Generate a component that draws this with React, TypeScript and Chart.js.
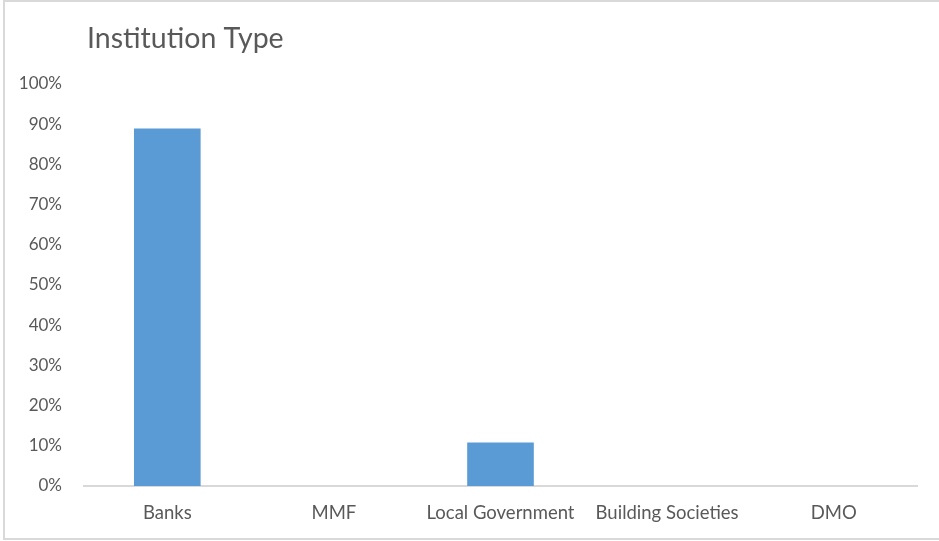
import React, { useEffect, useRef } from "react";
import { Chart, registerables } from "chart.js";

Chart.register(...registerables);

const categories: string[] = ["Banks", "MMF", "Local Government", "Building Societies", "DMO"];
const shares: number[] = [88.9, 0, 10.8, 0, 0];
const yTicks: number[] = [0, 10, 20, 30, 40, 50, 60, 70, 80, 90, 100];
const chartTitle = "Institution Type";

const TEXT = "#595959";
const FONT = "Lato, 'Open Sans', sans-serif";

const titlePlugin = {
  id: "leftTitle",
  afterDraw(chart: any) {
    const { ctx, chartArea } = chart;
    ctx.save();
    ctx.font = `28.5px ${FONT}`;
    ctx.fillStyle = TEXT;
    ctx.textAlign = "left";
    ctx.textBaseline = "alphabetic";
    ctx.fillText(chartTitle, chartArea.left + 3, 48);
    ctx.restore();
  },
};

export default function App() {
  const ref = useRef<HTMLCanvasElement | null>(null);

  useEffect(() => {
    if (!ref.current) return;
    const chart = new Chart(ref.current, {
      type: "bar",
      data: {
        labels: categories,
        datasets: [
          {
            data: shares,
            backgroundColor: "#5B9BD5",
            borderWidth: 0,
            barPercentage: 0.4,
            categoryPercentage: 1,
          },
        ],
      },
      options: {
        animation: false,
        responsive: true,
        maintainAspectRatio: false,
        layout: { padding: { left: 0, right: 22, top: 84, bottom: 0 } },
        plugins: {
          legend: { display: false },
          title: { display: false },
          tooltip: { enabled: false },
        },
        scales: {
          x: {
            type: "category",
            grid: { display: false },
            border: { display: true, color: "#d9d9d9", width: 2 },
            ticks: {
              color: TEXT,
              font: { family: FONT, size: 18.5 },
              padding: 8,
              maxRotation: 0,
              autoSkip: false,
            },
            afterFit(scale: any) {
              scale.height = 55;
            },
          },
          y: {
            min: 0,
            max: 100,
            grid: { display: false },
            border: { display: false },
            afterBuildTicks(scale: any) {
              scale.ticks = yTicks.map((v) => ({ value: v }));
            },
            ticks: {
              color: TEXT,
              font: { family: FONT, size: 17 },
              padding: 14,
              callback: (v: any) => `${v}%`,
            },
            afterFit(scale: any) {
              scale.width = 84;
            },
          },
        },
      },
      plugins: [titlePlugin],
    });
    return () => chart.destroy();
  }, []);

  return (
    <div style={{ position: "fixed", left: 0, top: 0, width: 939, height: 541, background: "#fff" }}>
      <div
        style={{
          position: "absolute",
          left: 3,
          top: 0,
          width: 940,
          height: 540,
          boxSizing: "border-box",
          borderLeft: "2px solid #d9d9d9",
          borderTop: "2px solid #d9d9d9",
          borderBottom: "2px solid #d9d9d9",
        }}
      />
      <canvas ref={ref} style={{ position: "absolute", left: 0, top: 0, width: 939, height: 541 }} />
    </div>
  );
}
